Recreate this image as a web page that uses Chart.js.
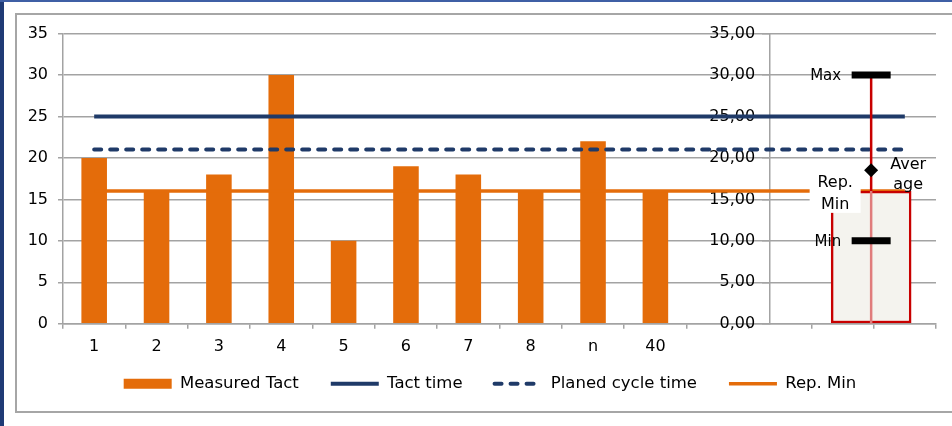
<!DOCTYPE html>
<html>
<head>
<meta charset="utf-8">
<script src="https://cdn.jsdelivr.net/npm/chart.js@4.4.1/dist/chart.umd.min.js"></script>
<style>
  html, body { margin: 0; padding: 0; background: #fff; overflow: hidden; width: 952px; height: 426px; }
  #frameLeft { position: absolute; left: 0; top: 0; width: 4px; height: 426px; background: #1f3a75; }
  #frameTop { position: absolute; left: 0; top: 0; width: 952px; height: 2px; background: #3f5fa5; }
  #panel { position: absolute; left: 15px; top: 13px; width: 960px; height: 396px; border: 2px solid #a6a6a6; }
  #chart { position: absolute; left: 17px; top: 7px; }
</style>
</head>
<body>
<div id="frameLeft"></div>
<div id="frameTop"></div>
<div id="panel"></div>
<canvas id="chart" width="947" height="395"></canvas>
<script>
// Cycles on the category axis; the trailing blanks leave room for the summary box.
const categories = ['1', '2', '3', '4', '5', '6', '7', '8', 'n', '40', '', '', '', ''];
const measuredTact = [20, 16, 18, 30, 10, 19, 18, 16, 22, 16];
const tactTime = [25, 25, 25, 25, 25, 25, 25, 25, 25, 25, 25, 25, 25, 25];
const planedCycleTime = [21, 21, 21, 21, 21, 21, 21, 21, 21, 21, 21, 21, 21, 21];
const repMin = [16, 16, 16, 16, 16, 16, 16, 16, 16, 16, 16, 16, 16, 16];

// Summary of the measured cycles
const summaryMax = [30];
const summaryMin = [10];
const summaryAverage = [18.5];
const summaryRepMin = [16];

const ORANGE = '#e46c0a';
const NAVY = '#1f3a68';
const RED = '#c80000';
const GRID = '#a3a3a3';
const FONT = 'DejaVu Sans';

const summarySlot = 12.46;     // index position of the summary box
const secondAxisSlot = 10.84;  // index position of the secondary value axis
const secondLabelSlot = 10.60; // its tick labels sit just left of the axis line

Chart.defaults.font.family = FONT;
Chart.defaults.color = '#000';

const labelItems = [
  { dataset: 7, index: 0, lines: ['Max'], size: 15, align: 'right', dx: -30, dy: 5.5, gap: 0 },
  { dataset: 7, index: 1, lines: ['Min'], size: 15, align: 'right', dx: -30, dy: 5, gap: 0 },
  { dataset: 8, index: 0, lines: ['Aver', 'age'], size: 16, align: 'center', dx: 37, dy: -1.7, gap: 20.4 },
  { dataset: 4, index: 0, lines: ['Rep.', 'Min'], size: 16, align: 'center', dx: -36, dy: -3.9, gap: 21.7,
    fill: '#ffffff', box: [-61.5, -19.5, 51, 41.3] }
];

const summaryLabels = {
  id: 'summaryLabels',
  afterDatasetsDraw(chart) {
    const ctx = chart.ctx;
    labelItems.forEach(item => {
      const el = chart.getDatasetMeta(item.dataset).data[item.index];
      if (!el) return;
      const { x, y } = el.getProps(['x', 'y'], true);
      ctx.save();
      if (item.fill) {
        ctx.fillStyle = item.fill;
        ctx.fillRect(x + item.box[0], y + item.box[1], item.box[2], item.box[3]);
      }
      ctx.font = item.size + 'px "' + FONT + '"';
      ctx.textAlign = item.align;
      ctx.textBaseline = 'alphabetic';
      ctx.fillStyle = '#000';
      item.lines.forEach((t, i) => ctx.fillText(t, x + item.dx, y + item.dy + i * item.gap));
      ctx.restore();
    });
  }
};

const fmtComma = v => Number(v).toFixed(2).replace('.', ',');

new Chart(document.getElementById('chart'), {
  type: 'bar',
  data: {
    labels: categories,
    datasets: [
      { type: 'bar', label: 'Measured Tact', data: measuredTact, backgroundColor: ORANGE, borderWidth: 0,
        grouped: false, categoryPercentage: 1, barPercentage: 0.41, order: 10, pointStyle: 'rect', xAxisID: 'x' },
      { type: 'line', label: 'Tact time', data: tactTime, borderColor: NAVY, backgroundColor: NAVY,
        borderWidth: 4, pointRadius: 0, order: 7, pointStyle: 'line', xAxisID: 'x' },
      { type: 'line', label: 'Planed cycle time', data: planedCycleTime, borderColor: NAVY, backgroundColor: NAVY,
        borderWidth: 4, borderDash: [7, 9], borderCapStyle: 'round', pointRadius: 0, order: 8,
        pointStyle: 'line', xAxisID: 'x' },
      { type: 'line', label: 'Rep. Min', data: repMin, borderColor: ORANGE, backgroundColor: ORANGE,
        borderWidth: 3.5, pointRadius: 0, order: 9, pointStyle: 'line', xAxisID: 'x' },
      // summary box from 0 up to the representative minimum
      { type: 'bar', label: 'box', data: [{ x: summarySlot, y: [0, summaryRepMin[0]] }], xAxisID: 'x2',
        grouped: false, backgroundColor: '#f4f3ee', borderColor: RED, borderWidth: 2.5, borderSkipped: false,
        barThickness: 80, order: 5 },
      { type: 'line', label: 'whisker', data: [{ x: summarySlot, y: summaryMax[0] }, { x: summarySlot, y: summaryRepMin[0] }],
        xAxisID: 'x2', borderColor: RED, borderWidth: 2.5, pointRadius: 0, order: 4 },
      { type: 'line', label: 'inner', data: [{ x: summarySlot, y: summaryRepMin[0] }, { x: summarySlot, y: 0 }],
        xAxisID: 'x2', borderColor: '#e07c7c', borderWidth: 2.5, pointRadius: 0, order: 3 },
      { type: 'line', label: 'extremes', data: [{ x: summarySlot, y: summaryMax[0] }, { x: summarySlot, y: summaryMin[0] }],
        xAxisID: 'x2', showLine: false, pointStyle: 'line', pointRadius: 19.5, pointBorderWidth: 7,
        pointBorderColor: '#000', pointBackgroundColor: '#000', order: 2 },
      { type: 'line', label: 'average', data: [{ x: summarySlot, y: summaryAverage[0] }],
        xAxisID: 'x2', showLine: false, pointStyle: 'rectRot', pointRadius: 7, pointBorderWidth: 0,
        pointBackgroundColor: '#000', order: 1 }
    ]
  },
  options: {
    responsive: false,
    devicePixelRatio: 1,
    animation: false,
    events: [],
    layout: { padding: { left: 0, right: 1, top: 0, bottom: 0 } },
    scales: {
      x: {
        type: 'category', offset: true,
        grid: { offset: true, drawOnChartArea: false, drawTicks: true, tickLength: 5, color: GRID, lineWidth: 1.5 },
        border: { color: GRID, width: 1.5 },
        ticks: { font: { size: 16 }, color: '#000', padding: -32.6, mirror: true, maxRotation: 0, autoSkip: false },
        afterFit: s => { s.height = 19.75; }
      },
      x2: { type: 'linear', display: false, offset: false, min: -0.5, max: 13.5 },
      y: {
        position: 'left',
        min: 0, max: 35,
        ticks: { stepSize: 5, font: { size: 16 }, color: '#000', padding: 10 },
        grid: { color: GRID, lineWidth: 1.5, tickLength: 5 },
        border: { color: GRID, width: 1.5 },
        afterFit: s => { s.width = 46; }
      },
      y2: {
        position: { x: secondAxisSlot },
        min: 0, max: 35,
        ticks: { stepSize: 5, display: false },
        grid: { drawOnChartArea: false, drawTicks: true, tickLength: 7, color: GRID, lineWidth: 1.5 },
        border: { color: GRID, width: 1.5 }
      },
      y2Labels: {
        axis: 'y',
        position: { x: secondLabelSlot },
        min: 0, max: 35,
        ticks: { stepSize: 5, font: { size: 16 }, color: '#000', callback: fmtComma },
        grid: { display: false },
        border: { display: false }
      },
      // keeps the bottom legend centred under the whole panel
      yPad: {
        axis: 'y', position: 'right', min: 0, max: 35,
        grid: { display: false }, border: { display: false }, ticks: { display: false },
        afterFit: s => { s.width = 27; }
      }
    },
    plugins: {
      tooltip: { enabled: false },
      legend: {
        position: 'bottom',
        labels: {
          usePointStyle: true, pointStyleWidth: 48, boxHeight: 10, padding: 32,
          font: { size: 16.5 }, color: '#000',
          filter: item => item.datasetIndex <= 3,
          sort: (a, b) => a.datasetIndex - b.datasetIndex,
          generateLabels: chart => Chart.defaults.plugins.legend.labels.generateLabels(chart).map(item => {
            const ds = chart.data.datasets[item.datasetIndex];
            item.lineDash = ds.borderDash || [];
            item.lineCap = ds.borderCapStyle || 'butt';
            return item;
          })
        }
      }
    }
  },
  plugins: [summaryLabels]
});
</script>
</body>
</html>
